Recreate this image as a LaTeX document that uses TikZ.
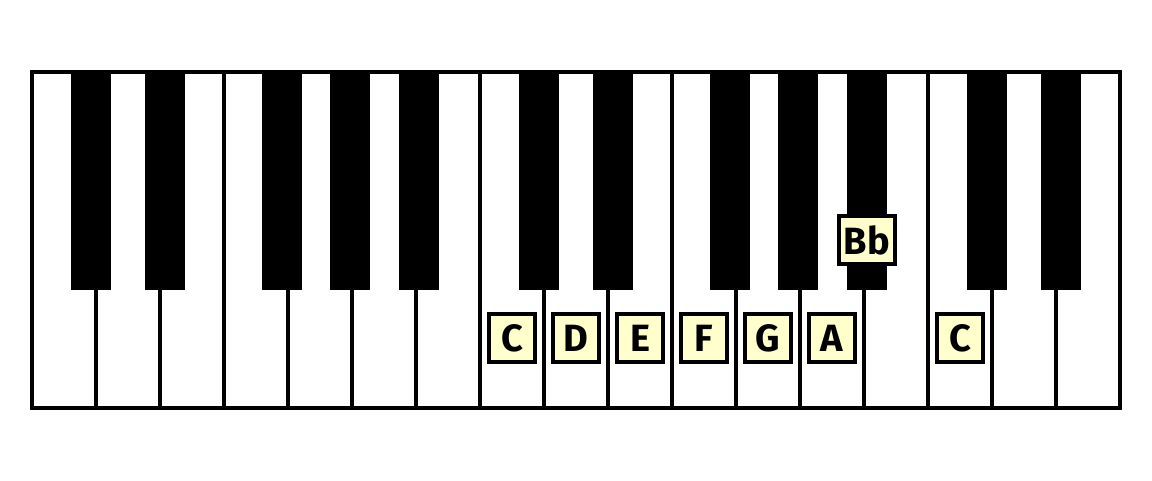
\documentclass[tikz,border=0pt]{standalone}
\usepackage{fontspec}
\setmainfont{Fira Sans}
\definecolor{notefill}{HTML}{FFFFCC}
\tikzset{notebox/.style={draw=black, line width=4, fill=notefill, minimum width=46, minimum height=48, inner sep=4.5, font=\bfseries\fontsize{38}{38}\selectfont}}
\begin{document}
\begin{tikzpicture}[x=1pt,y=-1pt]
\useasboundingbox (0,0) rectangle (1152,480);
\fill[white] (0,0) rectangle (1152,480);
% white keys
\foreach \k in {1,...,16} {
 \draw[black, line width=4] (32+64*\k,72) --++(0,336);
}
\draw[black, line width=4] (32,72) rectangle (1120,408);
% black keys
\foreach \b in {71,145,262,330,399,519,593,710,778,847,967,1041} {
 \fill[black] (\b,72) rectangle ++(40,218);
}
% note labels
\foreach \n/\x in {C/512, D/576, E/640, F/704, G/768, A/832} {
 \node[notebox] (\n) at (\x,338) {\n};
}
\node[notebox] (Bb) at (867,240) {Bb};
\node[notebox] (Chigh) at (960,338) {C};
\end{tikzpicture}
\end{document}
